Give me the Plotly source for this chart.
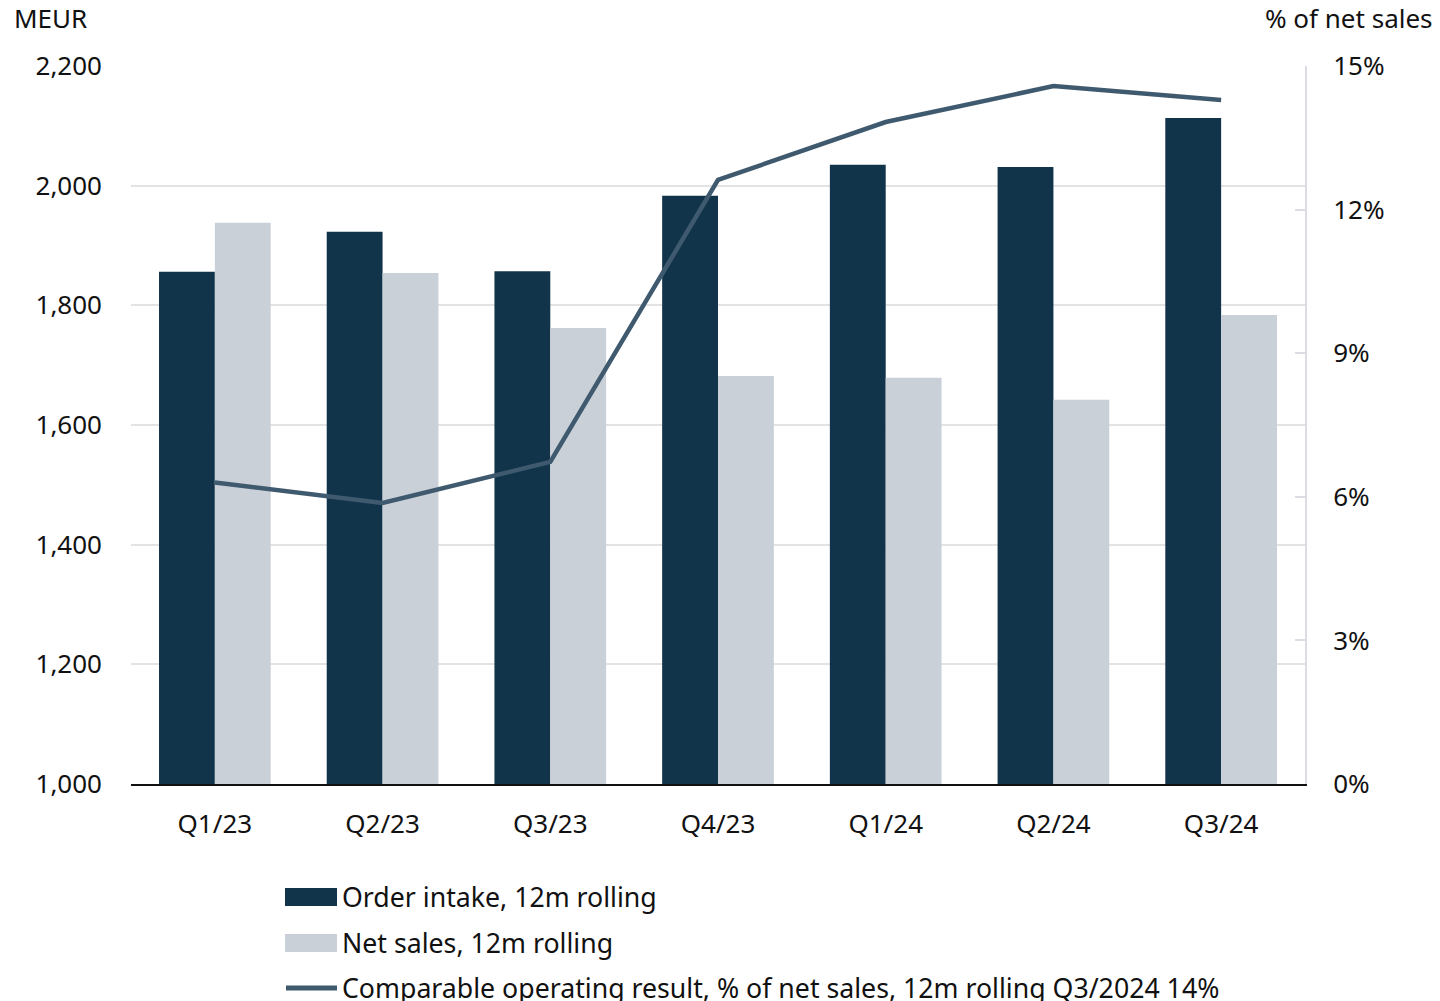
import plotly.graph_objects as go

quarters = ["Q1/23", "Q2/23", "Q3/23", "Q4/23", "Q1/24", "Q2/24", "Q3/24"]
order_intake = [1856, 1923, 1857, 1983, 2035, 2031, 2113]
net_sales = [1938, 1854, 1762, 1682, 1679, 1642, 1784]
op_result_pct = [6.3, 5.87, 6.73, 12.62, 13.83, 14.58, 14.29]

left_ticks = [1000, 1200, 1400, 1600, 1800, 2000, 2200]
right_ticks = [0, 3, 6, 9, 12, 15]
right_tick_labels = ["0%", "3%", "6%", "9%", "12%", "15%"]

legend_labels = [
    "Order intake, 12m rolling",
    "Net sales, 12m rolling",
    "Comparable operating result, % of net sales, 12m rolling Q3/2024 14%",
]

NAVY = "#12344a"
GREY = "#c9d0d7"
LINE = "#3f5a6e"
FONT = "Noto Sans"
TXT = "#111111"

W, H = 1440, 1001
ML, MR, MT, MB = 131, 135, 66, 217
PW, PH = W - ML - MR, H - MT - MB


def px_x(x):
    return (x - ML) / PW


def px_y(y):
    return (H - MB - y) / PH


fig = go.Figure()
fig.add_trace(go.Bar(x=quarters, y=order_intake, name=legend_labels[0],
                     marker=dict(color=NAVY, line=dict(width=0))))
fig.add_trace(go.Bar(x=quarters, y=net_sales, name=legend_labels[1],
                     marker=dict(color=GREY, line=dict(width=0))))
fig.add_trace(go.Scatter(x=quarters, y=op_result_pct, name=legend_labels[2],
                         yaxis="y2", mode="lines",
                         line=dict(color=LINE, width=4.5)))

shapes = []
annotations = []

# Hand-laid legend below the plot
rows_y = [897, 943, 988]
for i, (label, ry) in enumerate(zip(legend_labels, rows_y)):
    if i < 2:
        shapes.append(dict(type="rect", xref="paper", yref="paper",
                           x0=px_x(285), x1=px_x(337),
                           y0=px_y(ry + 9), y1=px_y(ry - 9),
                           fillcolor=NAVY if i == 0 else GREY,
                           line=dict(width=0)))
    else:
        shapes.append(dict(type="line", xref="paper", yref="paper",
                           x0=px_x(286), x1=px_x(337),
                           y0=px_y(ry), y1=px_y(ry),
                           line=dict(color=LINE, width=5)))
    annotations.append(dict(text=label, xref="paper", yref="paper",
                            x=px_x(340), y=px_y(ry - 1), xanchor="left",
                            yanchor="middle", showarrow=False,
                            font=dict(family=FONT, size=26.7, color=TXT)))

annotations.append(dict(text="MEUR", xref="paper", yref="paper",
                        x=px_x(12), y=px_y(18), xanchor="left",
                        yanchor="middle", showarrow=False,
                        font=dict(family=FONT, size=26, color=TXT)))
annotations.append(dict(text="% of net sales", xref="paper", yref="paper",
                        x=px_x(1435), y=px_y(18), xanchor="right",
                        yanchor="middle", showarrow=False,
                        font=dict(family=FONT, size=26, color=TXT)))

fig.update_layout(
    width=W, height=H,
    margin=dict(l=ML, r=MR, t=MT, b=MB, pad=0),
    paper_bgcolor="white", plot_bgcolor="white",
    barmode="group", bargap=0.334, bargroupgap=0,
    showlegend=False,
    font=dict(family=FONT, size=26, color=TXT),
    shapes=shapes, annotations=annotations,
    xaxis=dict(type="category", showgrid=False, showline=True,
               linecolor=TXT, linewidth=2, ticks="",
               ticklabelstandoff=16,
               tickfont=dict(family=FONT, size=26, color=TXT)),
    yaxis=dict(range=[1000, 2200], tickvals=left_ticks,
               tickformat=",d", showgrid=True, gridcolor="#e3e3e3",
               gridwidth=2, zeroline=False, showline=False, ticks="",
               ticklabelstandoff=28,
               tickfont=dict(family=FONT, size=26, color=TXT)),
    yaxis2=dict(range=[0, 15], tickvals=right_ticks,
                ticktext=right_tick_labels,
                overlaying="y", side="right", showgrid=False,
                zeroline=False, showline=True, linecolor="#dcdce2",
                linewidth=2, ticks="inside", ticklen=10,
                tickcolor="#dcdce2", tickwidth=2,
                ticklabelstandoff=21,
                tickfont=dict(family=FONT, size=26, color=TXT)),
)

fig.write_html("out.html")
